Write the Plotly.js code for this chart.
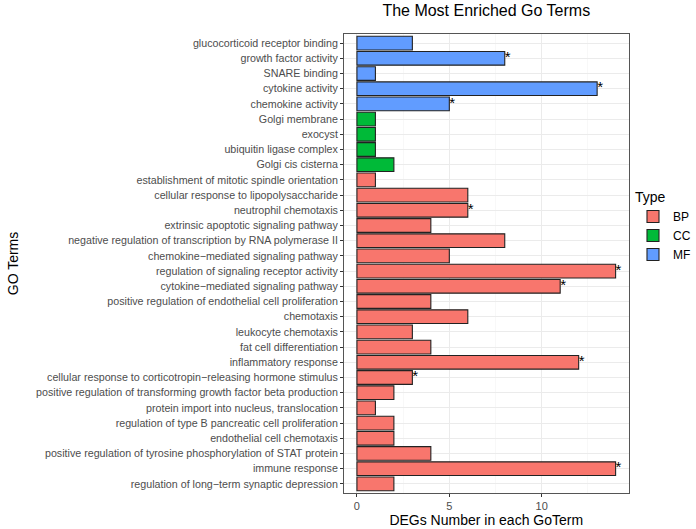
<!DOCTYPE html>
<html><head><meta charset="utf-8">
<script src="https://cdn.plot.ly/plotly-3.0.1.min.js"></script>
<style>body{margin:0;padding:0;background:#fff}#chart{width:696px;height:529px}</style>
</head><body><div id="chart"></div>
<script>
const terms = [
"glucocorticoid receptor binding","growth factor activity","SNARE binding","cytokine activity","chemokine activity",
"Golgi membrane","exocyst","ubiquitin ligase complex","Golgi cis cisterna",
"establishment of mitotic spindle orientation","cellular response to lipopolysaccharide","neutrophil chemotaxis",
"extrinsic apoptotic signaling pathway","negative regulation of transcription by RNA polymerase II",
"chemokine\u2212mediated signaling pathway","regulation of signaling receptor activity","cytokine\u2212mediated signaling pathway",
"positive regulation of endothelial cell proliferation","chemotaxis","leukocyte chemotaxis","fat cell differentiation",
"inflammatory response","cellular response to corticotropin\u2212releasing hormone stimulus",
"positive regulation of transforming growth factor beta production","protein import into nucleus, translocation",
"regulation of type B pancreatic cell proliferation","endothelial cell chemotaxis",
"positive regulation of tyrosine phosphorylation of STAT protein","immune response","regulation of long\u2212term synaptic depression"];
const counts = [3,8,1,13,5, 1,1,1,2, 1,6,6,4,8,5,14,11,4,6,3,4,12,3,2,1,2,2,4,14,2];
const types = ["MF","MF","MF","MF","MF","CC","CC","CC","CC",
"BP","BP","BP","BP","BP","BP","BP","BP","BP","BP","BP","BP","BP","BP","BP","BP","BP","BP","BP","BP","BP"];
const signif = ["","*","","*","*","","","","","","","*","","","","*","*","","","","","*","*","","","","","","*",""];
const typeOrder = ["BP","CC","MF"];
const typeColors = {BP:"#F8766D", CC:"#00BA38", MF:"#619CFF"};

const traces = typeOrder.map(t => {
  const idx = terms.map((_,i)=>i).filter(i=>types[i]===t);
  return {
    type:"bar", orientation:"h", name:t,
    y: idx.map(i=>terms[i]), x: idx.map(i=>counts[i]),
    width:0.9,
    marker:{color:typeColors[t], line:{color:"#222222", width:1.1}},
    hoverinfo:"x+y"
  };
});
const sIdx = terms.map((_,i)=>i).filter(i=>signif[i]);
traces.push({
  type:"scatter", mode:"text", showlegend:false,
  y: sIdx.map(i=>terms[i]), x: sIdx.map(i=>counts[i]),
  text: sIdx.map(i=>signif[i]), textposition:"middle right",
  textfont:{size:15, color:"#000", family:"Liberation Sans, Arial, sans-serif"},
  cliponaxis:false, hoverinfo:"skip"
});

const layout = {
  width:696, height:529,
  margin:{l:344, r:0, t:34, b:36},
  paper_bgcolor:"#fff", plot_bgcolor:"#fff",
  font:{family:"Liberation Sans, Arial, sans-serif", color:"#4d4d4d", size:11},
  barmode:"overlay",
  title:{text:"The Most Enriched Go Terms", x:0.416, xanchor:"center", xref:"paper", y:0.99, yanchor:"top",
         font:{size:16, color:"#000"}},
  xaxis:{domain:[0,0.832], range:[-0.7,14.7], tickvals:[0,5,10], ticktext:["0","5","10"], ticks:"outside", ticklen:3,
         tickcolor:"#333", showgrid:true, gridcolor:"#ebebeb", gridwidth:1,
         minor:{tickvals:[2.5,7.5,12.5], showgrid:true, gridcolor:"#f3f3f3", gridwidth:0.6, ticks:""},
         zeroline:false, showline:true, mirror:true, linecolor:"#555", linewidth:1,
         tickfont:{size:11, color:"#4d4d4d"}, automargin:false,
         title:{text:"DEGs Number in each GoTerm", font:{size:14, color:"#000"}, standoff:1}},
  yaxis:{type:"category", categoryorder:"array", categoryarray:terms, range:[29.6,-0.6],
         ticks:"outside", ticklen:3, tickcolor:"#333", showgrid:true, gridcolor:"#ebebeb", gridwidth:1,
         showline:true, mirror:true, linecolor:"#555", linewidth:1, zeroline:false,
         tickfont:{size:10.7, color:"#4d4d4d"},
         title:{text:"GO Terms", font:{size:14, color:"#000"}, standoff:14}},
  legend:{title:{text:"Type", font:{size:14, color:"#000"}}, x:0.845, xanchor:"left",
          y:0.58, yanchor:"middle",
          font:{size:12, color:"#000"}, traceorder:"normal", itemwidth:30, tracegroupgap:0},
  showlegend:true
};
Plotly.newPlot("chart", traces, layout, {displayModeBar:false, staticPlot:true});
</script></body></html>
